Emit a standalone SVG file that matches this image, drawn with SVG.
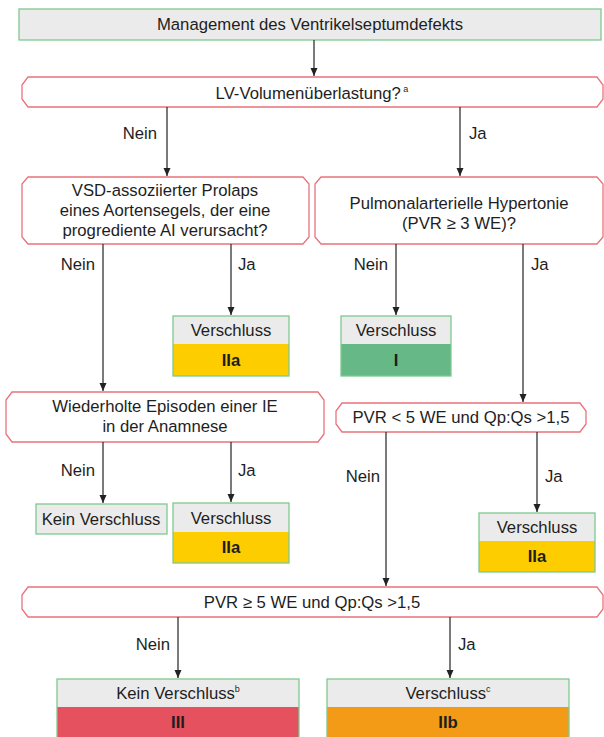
<svg xmlns="http://www.w3.org/2000/svg" width="604" height="737" viewBox="0 0 604 737">
<defs>
<marker id="ah" markerUnits="userSpaceOnUse" markerWidth="9" markerHeight="8" refX="8" refY="3.5" orient="auto">
<path d="M0,0 L8,3.5 L0,7 z" fill="#222"/>
</marker>
<style>
text{font-family:"Liberation Sans",Arial,sans-serif;font-size:16.7px;fill:#1e1e1e;text-anchor:middle}
.dec{fill:#fff;stroke:#e8737b;stroke-width:1.3}
.res{stroke:#7dc98f;stroke-width:1.3}
.gray{fill:#ebebeb}
.b{font-weight:bold}
.sup{font-size:9px}
.l{text-anchor:end}
.r{text-anchor:start}
#conn line{stroke:#333;stroke-width:1.3;marker-end:url(#ah)}
</style>
</defs>
<rect width="604" height="737" fill="#fff"/>

<g id="title">
<rect x="19" y="9" width="582" height="31" class="gray res"/>
<text x="310" y="30">Management des Ventrikelseptumdefekts</text>
</g>

<g id="lv">
<path class="dec" d="M28,77 H597 L603,85 V99 L597,107 H28 L22,99 V85 Z"/>
<text x="312" y="99">LV-Volumenüberlastung?<tspan class="sup" dy="-7"> a</tspan></text>
</g>

<g id="vsd">
<path class="dec" d="M28,177 H303 L309,184 V237 L303,244 H28 L22,237 V184 Z"/>
<text x="165" y="196">VSD-assoziierter Prolaps</text>
<text x="165" y="216">eines Aortensegels, der eine</text>
<text x="165" y="236">progrediente AI verursacht?</text>
</g>

<g id="pulm">
<path class="dec" d="M321,177 H597 L603,184 V237 L597,244 H321 L315,237 V184 Z"/>
<text x="459" y="209">Pulmonalarterielle Hypertonie</text>
<text x="459" y="229">(PVR ≥ 3 WE)?</text>
</g>

<g id="wied">
<path class="dec" d="M12,392 H318 L324,400 V434 L318,442 H12 L6,434 V400 Z"/>
<text x="165" y="412">Wiederholte Episoden einer IE</text>
<text x="165" y="432">in der Anamnese</text>
</g>

<g id="pvr5lt">
<path class="dec" d="M342,403 H580 L586,411 V424 L580,432 H342 L336,424 V411 Z"/>
<text x="461" y="423">PVR &lt; 5 WE und Qp:Qs &gt;1,5</text>
</g>

<g id="pvr5ge">
<path class="dec" d="M28,587 H597 L603,595 V609 L597,617 H28 L22,609 V595 Z"/>
<text x="312" y="608">PVR ≥ 5 WE und Qp:Qs &gt;1,5</text>
</g>

<g id="r1">
<rect x="173" y="316" width="116" height="28" class="gray"/>
<rect x="173" y="344" width="116" height="32" fill="#fdcd00"/>
<rect x="173" y="316" width="116" height="60" fill="none" class="res"/>
<text x="231" y="336">Verschluss</text>
<text x="231" y="366" class="b">IIa</text>
</g>

<g id="r2">
<rect x="341" y="316" width="110" height="28" class="gray"/>
<rect x="341" y="344" width="110" height="32" fill="#66b886"/>
<rect x="341" y="316" width="110" height="60" fill="none" class="res"/>
<text x="396" y="336">Verschluss</text>
<text x="396" y="366" class="b">I</text>
</g>

<g id="r3">
<rect x="36" y="504" width="131" height="30" class="gray res"/>
<text x="101" y="525">Kein Verschluss</text>
</g>

<g id="r4">
<rect x="173" y="503" width="116" height="29" class="gray"/>
<rect x="173" y="532" width="116" height="31" fill="#fdcd00"/>
<rect x="173" y="503" width="116" height="60" fill="none" class="res"/>
<text x="231" y="524">Verschluss</text>
<text x="231" y="553" class="b">IIa</text>
</g>

<g id="r5">
<rect x="479" y="513" width="116" height="28" class="gray"/>
<rect x="479" y="541" width="116" height="31" fill="#fdcd00"/>
<rect x="479" y="513" width="116" height="59" fill="none" class="res"/>
<text x="537" y="533">Verschluss</text>
<text x="537" y="562" class="b">IIa</text>
</g>

<g id="r6">
<rect x="57" y="679" width="242" height="28" class="gray"/>
<rect x="57" y="707" width="242" height="30" fill="#e6515f"/>
<rect x="57" y="679" width="242" height="60" fill="none" class="res"/>
<text x="178" y="699">Kein Verschluss<tspan class="sup" dy="-7">b</tspan></text>
<text x="178" y="728" class="b">III</text>
</g>

<g id="r7">
<rect x="327" y="679" width="242" height="28" class="gray"/>
<rect x="327" y="707" width="242" height="30" fill="#f39a17"/>
<rect x="327" y="679" width="242" height="60" fill="none" class="res"/>
<text x="448" y="699">Verschluss<tspan class="sup" dy="-7">c</tspan></text>
<text x="448" y="728" class="b">IIb</text>
</g>

<g id="conn">
<line x1="314" y1="40" x2="314" y2="76"/>
<line x1="167" y1="107" x2="167" y2="176"/>
<line x1="460" y1="107" x2="460" y2="176"/>
<line x1="103" y1="244" x2="103" y2="391"/>
<line x1="231" y1="244" x2="231" y2="315"/>
<line x1="396" y1="244" x2="396" y2="315"/>
<line x1="523" y1="244" x2="523" y2="402"/>
<line x1="103" y1="442" x2="103" y2="503"/>
<line x1="231" y1="442" x2="231" y2="502"/>
<line x1="386" y1="432" x2="386" y2="586"/>
<line x1="537" y1="432" x2="537" y2="512"/>
<line x1="178" y1="617" x2="178" y2="678"/>
<line x1="450" y1="617" x2="450" y2="678"/>
<text x="157" y="139" class="l">Nein</text>
<text x="469" y="139" class="r">Ja</text>
<text x="95" y="270" class="l">Nein</text>
<text x="238" y="270" class="r">Ja</text>
<text x="388" y="270" class="l">Nein</text>
<text x="531" y="270" class="r">Ja</text>
<text x="95" y="476" class="l">Nein</text>
<text x="238" y="476" class="r">Ja</text>
<text x="380" y="482" class="l">Nein</text>
<text x="545" y="482" class="r">Ja</text>
<text x="170" y="650" class="l">Nein</text>
<text x="458" y="650" class="r">Ja</text>
</g>
</svg>
